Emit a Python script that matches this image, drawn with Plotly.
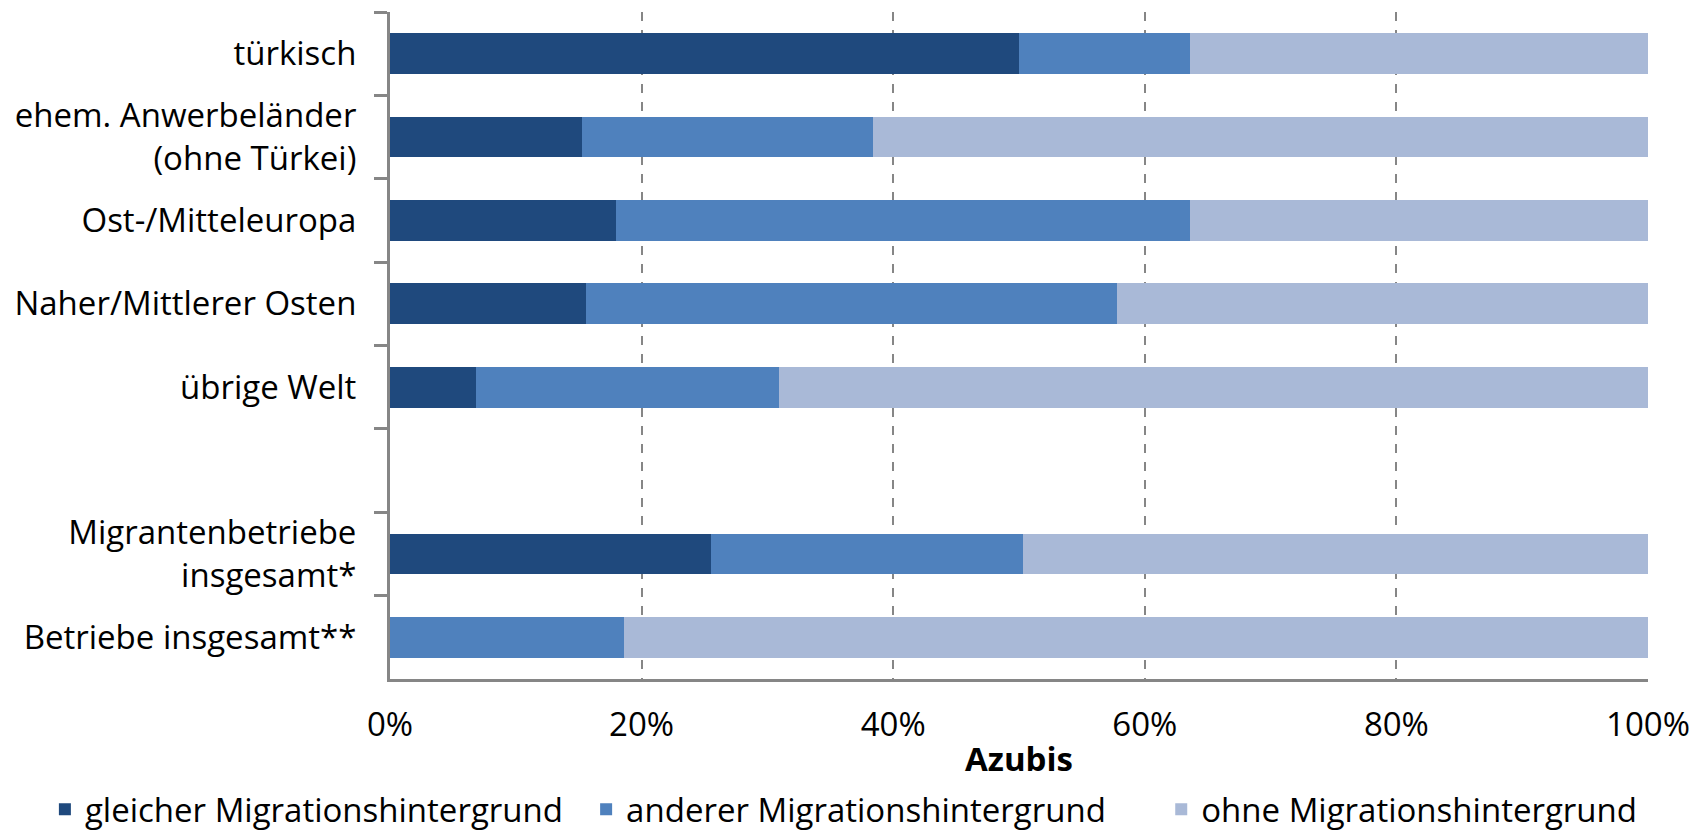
import plotly.graph_objects as go

categories = ["türkisch", "ehem. Anwerbeländer<br>(ohne Türkei)", "Ost-/Mitteleuropa",
              "Naher/Mittlerer Osten", "übrige Welt", " ",
              "Migrantenbetriebe<br>insgesamt*", "Betriebe insgesamt**"]
gleicher = [50.0, 15.3, 18.0, 15.6, 6.8, None, 25.5, 0.0]
anderer = [13.6, 23.1, 45.6, 42.2, 24.1, None, 24.8, 18.6]
ohne = [36.4, 61.6, 36.4, 42.2, 69.1, None, 49.7, 81.4]
series_names = ["gleicher Migrationshintergrund", "anderer Migrationshintergrund", "ohne Migrationshintergrund"]
colors = ["#1F497D", "#4F81BD", "#A9B9D7"]
x_ticks = [0, 20, 40, 60, 80, 100]
x_ticklabels = ["0%", "20%", "40%", "60%", "80%", "100%"]

FONT = "Open Sans"
FS = 33
legend_ids = ["legend", "legend2", "legend3"]
legend_x = [0.0265, 0.346, 0.6855]

fig = go.Figure()
for name, vals, col, lid in zip(series_names, [gleicher, anderer, ohne], colors, legend_ids):
    fig.add_trace(go.Bar(y=categories, x=vals, name=name, orientation="h", legend=lid,
                         marker=dict(color=col, line=dict(width=0))))

fig.update_layout(
    barmode="stack", bargap=0.51,
    width=1694, height=836,
    margin=dict(l=390, r=46, t=12, b=157, autoexpand=False),
    plot_bgcolor="white", paper_bgcolor="white",
    font=dict(family=FONT, size=FS, color="black"),
    showlegend=True,
)
for lid, lx in zip(legend_ids, legend_x):
    fig.update_layout({lid: dict(orientation="h", x=lx, xanchor="left", xref="container",
                                 y=0.032, yanchor="middle", yref="container",
                                 font=dict(size=FS), bgcolor="rgba(0,0,0,0)")})

fig.update_xaxes(range=[0, 100], tickvals=x_ticks, ticktext=x_ticklabels,
                 showgrid=True, gridcolor="#868686", griddash="dash", gridwidth=1.5,
                 showline=True, linecolor="#868686", linewidth=3, zeroline=False,
                 ticks="", ticklabelstandoff=14,
                 title=dict(text="<b>Azubis</b>", standoff=44, font=dict(size=FS)))
fig.update_yaxes(autorange="reversed", showline=True, linecolor="#868686", linewidth=3,
                 ticks="outside", tickson="boundaries", ticklen=13, tickwidth=3,
                 tickcolor="#868686", ticklabelstandoff=24, showgrid=False)

fig.write_html("out.html")
